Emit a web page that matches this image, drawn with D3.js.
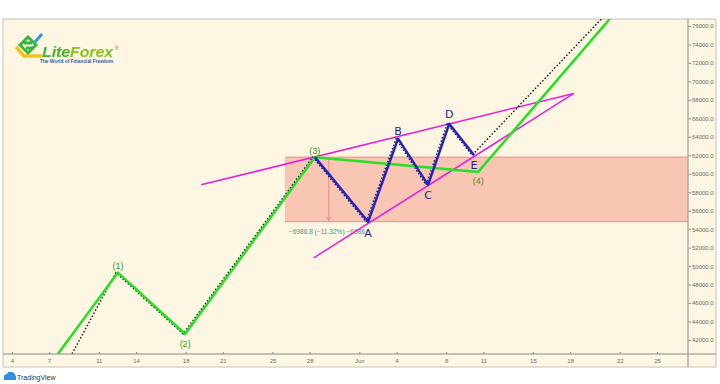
<!DOCTYPE html>
<html>
<head>
<meta charset="utf-8">
<title>Wave count</title>
<style>
  body { margin: 0; background: #fff; }
  svg { display: block; font-family: "Liberation Sans", Arial, sans-serif; }
</style>
</head>
<body>
<div id="chart"></div>
<script src="https://cdn.jsdelivr.net/npm/d3@7"></script>
<script>
// impulse wave, green
var waveDates = ["2021-05-07 17:00", "2021-05-12 13:00", "2021-05-17 23:00", "2021-05-28 10:00", "2021-06-10 14:00", "2021-06-21 05:00"];
var waveValues = [40500, 49300, 42650, 61800, 60200, 76800];
var waveLabels = ["", "(1)", "(2)", "(3)", "(4)", ""];

// triangle A-E, blue
var triDates = ["2021-05-28 10:00", "2021-06-01 17:00", "2021-06-04 03:00", "2021-06-06 13:00", "2021-06-08 06:00", "2021-06-10 06:00"];
var triValues = [61800, 54800, 63800, 58800, 65400, 62000];
var triLabels = ["", "A", "B", "C", "D", "E"];

// price path, dotted black
var priceDates = ["2021-05-09 00:00", "2021-05-12 13:00", "2021-05-17 23:00", "2021-05-28 10:00", "2021-06-01 17:00", "2021-06-04 03:00", "2021-06-06 13:00", "2021-06-08 06:00", "2021-06-10 06:00", "2021-06-20 17:00"];
var priceValues = [40500, 49300, 42650, 61800, 54800, 63800, 58800, 65400, 62000, 76800];

// triangle trendlines, magenta
var upperDates = ["2021-05-19 06:00", "2021-06-18 07:00"];
var upperValues = [58800, 68700];
var lowerDates = ["2021-05-28 08:00", "2021-06-18 07:00"];
var lowerValues = [50900, 68700];

// price range box
var rangeStart = "2021-05-26 00:00";
var rangeArrow = "2021-05-29 13:00";
var rangeTop = 61800;
var rangeBottom = 54813;
var rangeText = "\u22126986.8 (\u221211.32%) \u22126986";

// axes
var xTickDates = ["2021-05-04 00:00", "2021-05-07 00:00", "2021-05-11 00:00", "2021-05-14 00:00", "2021-05-18 00:00", "2021-05-21 00:00", "2021-05-25 00:00", "2021-05-28 00:00", "2021-06-01 00:00", "2021-06-04 00:00", "2021-06-08 00:00", "2021-06-11 00:00", "2021-06-15 00:00", "2021-06-18 00:00", "2021-06-22 00:00", "2021-06-25 00:00"];
var xTickLabels = ["4", "7", "11", "14", "18", "21", "25", "28", "Jun", "4", "8", "11", "15", "18", "22", "25"];
var yTicks = [42000, 44000, 46000, 48000, 50000, 52000, 54000, 56000, 58000, 60000, 62000, 64000, 66000, 68000, 70000, 72000, 74000, 76000];

var parse = d3.timeParse("%Y-%m-%d %H:%M");

var W = 720, H = 384;
var frameLeft = 3, frameTop = 19, plotRight = 688, axisRight = 716, plotBottom = 354, axisBottom = 367;

var svg = d3.select("#chart").append("svg")
    .attr("width", W)
    .attr("height", H);

var x = d3.scaleTime()
    .domain([parse("2021-05-04 00:00"), parse("2021-06-25 00:00")])
    .range([12, 657]);
var y = d3.scaleLinear()
    .domain([42000, 76000])
    .range([340, 26]);

// frame
svg.append("rect")
    .attr("x", frameLeft).attr("y", frameTop)
    .attr("width", axisRight - frameLeft).attr("height", axisBottom - frameTop)
    .attr("fill", "#fdf6e2")
    .attr("stroke", "#c4c2b8");

svg.append("clipPath").attr("id", "plot")
    .append("rect")
    .attr("x", frameLeft).attr("y", frameTop)
    .attr("width", plotRight - frameLeft).attr("height", plotBottom - frameTop);

var plot = svg.append("g").attr("clip-path", "url(#plot)");

// range box
var rx = x(parse(rangeStart));
plot.append("rect")
    .attr("x", rx)
    .attr("y", y(rangeTop))
    .attr("width", plotRight - rx)
    .attr("height", y(rangeBottom) - y(rangeTop))
    .attr("fill", "#f9c6b3");
[rangeTop, rangeBottom].forEach(function(v) {
    plot.append("line")
        .attr("x1", rx).attr("x2", plotRight)
        .attr("y1", y(v)).attr("y2", y(v))
        .attr("stroke", "#ee8a86").attr("stroke-width", 1);
});
var ax = x(parse(rangeArrow));
plot.append("line")
    .attr("x1", ax).attr("x2", ax)
    .attr("y1", y(rangeTop)).attr("y2", y(rangeBottom) - 1)
    .attr("stroke", "#ea8a86").attr("stroke-width", 1);
plot.append("path")
    .attr("d", "M" + (ax - 2.5) + "," + (y(rangeBottom) - 5) + "L" + ax + "," + (y(rangeBottom) - 1) + "L" + (ax + 2.5) + "," + (y(rangeBottom) - 5))
    .attr("fill", "none").attr("stroke", "#ea8a86").attr("stroke-width", 1);
plot.append("text")
    .attr("x", rx + 4)
    .attr("y", y(rangeBottom) + 12)
    .attr("font-size", 6.3)
    .attr("fill", "#3d9a8c")
    .attr("textLength", 76).attr("lengthAdjust", "spacingAndGlyphs")
    .text(rangeText);

var line = d3.line()
    .x(function(d) { return x(d[0]); })
    .y(function(d) { return y(d[1]); });

function pts(dates, values) {
    return dates.map(function(d, i) { return [parse(d), values[i]]; });
}

// trendlines
plot.append("path")
    .attr("d", line(pts(upperDates, upperValues)))
    .attr("fill", "none").attr("stroke", "#e41ee4").attr("stroke-width", 1.5);
plot.append("path")
    .attr("d", line(pts(lowerDates, lowerValues)))
    .attr("fill", "none").attr("stroke", "#e41ee4").attr("stroke-width", 1.5);

// price
plot.append("path")
    .attr("d", line(pts(priceDates, priceValues)))
    .attr("fill", "none").attr("stroke", "#111").attr("stroke-width", 1.4)
    .attr("stroke-dasharray", "1.5,2")
    .attr("transform", "translate(-2,0)");

// waves
plot.append("path")
    .attr("d", line(pts(waveDates, waveValues)))
    .attr("fill", "none").attr("stroke", "#26e026").attr("stroke-width", 2.5)
    .attr("stroke-linejoin", "round");
plot.append("path")
    .attr("d", line(pts(triDates, triValues)))
    .attr("fill", "none").attr("stroke", "#2323c8").attr("stroke-width", 2.5)
    .attr("stroke-linejoin", "round");

// labels
var waveOff = [0, -7, 10, -6, 9, 0];
waveLabels.forEach(function(t, i) {
    if (!t) return;
    svg.append("text")
        .attr("x", x(parse(waveDates[i])))
        .attr("y", y(waveValues[i]) + waveOff[i])
        .attr("dy", "0.35em")
        .attr("text-anchor", "middle")
        .attr("font-size", 9)
        .attr("fill", i == 4 ? "#5c8c12" : "#2e9a36")
        .text(t);
});
var triOff = [0, 11, -8, 10, -10, 10];
triLabels.forEach(function(t, i) {
    if (!t) return;
    svg.append("text")
        .attr("x", x(parse(triDates[i])))
        .attr("y", y(triValues[i]) + triOff[i])
        .attr("dy", "0.36em")
        .attr("text-anchor", "middle")
        .attr("font-family", "DejaVu Sans, sans-serif")
        .attr("font-size", 11)
        .attr("fill", "#1e1e8e")
        .text(t);
});

// x axis
var gx = svg.append("g")
    .attr("transform", "translate(0," + plotBottom + ")")
    .call(d3.axisBottom(x)
        .tickValues(xTickDates.map(parse))
        .tickFormat(function(d, i) { return xTickLabels[i]; })
        .tickSizeInner(-2).tickSizeOuter(0).tickPadding(5));
gx.select(".domain").remove();
gx.selectAll("line").attr("stroke", "#8a8a84");
gx.selectAll("text").attr("font-size", 6).attr("fill", "#6a6a66").attr("font-family", "Liberation Sans, Arial, sans-serif");

// y axis
var gy = svg.append("g")
    .attr("transform", "translate(" + plotRight + ",0)")
    .call(d3.axisRight(y)
        .tickValues(yTicks)
        .tickFormat(d3.format(".1f"))
        .tickSizeInner(3).tickSizeOuter(0).tickPadding(1));
gy.select(".domain").remove();
gy.selectAll("line").attr("stroke", "#8a8a84");
gy.selectAll("text").attr("font-size", 6).attr("fill", "#6a6a66").attr("font-family", "Liberation Sans, Arial, sans-serif");

svg.append("line")
    .attr("x1", plotRight).attr("x2", plotRight)
    .attr("y1", frameTop).attr("y2", axisBottom)
    .attr("stroke", "#aeaca4").attr("stroke-width", 1.5);
svg.append("line")
    .attr("x1", frameLeft).attr("x2", axisRight)
    .attr("y1", plotBottom).attr("y2", plotBottom)
    .attr("stroke", "#8c8a84").attr("stroke-width", 1);

// LiteForex logo
var logo = svg.append("g");
logo.append("path")
    .attr("d", "M16,47 L24,56 L42,56")
    .attr("fill", "none").attr("stroke", "#f2c41a").attr("stroke-width", 3.5)
    .attr("stroke-linejoin", "miter");
logo.append("path")
    .attr("d", "M20,45 L28,37 L36,45 L28,53 Z M24,43 L32,43 M26,48 L34,48")
    .attr("fill", "none").attr("stroke", "#3cb43c").attr("stroke-width", 3);
logo.append("path")
    .attr("d", "M35,42 L42,34")
    .attr("stroke", "#2a9be0").attr("stroke-width", 3);
var lf = logo.append("text")
    .attr("x", 42).attr("y", 57)
    .attr("font-size", 14).attr("font-weight", "bold").attr("font-style", "italic")
    .attr("textLength", 71).attr("lengthAdjust", "spacingAndGlyphs");
lf.append("tspan").attr("fill", "#46b035").text("Lite");
lf.append("tspan").attr("fill", "#8cbf1e").text("Forex");
logo.append("text")
    .attr("x", 115).attr("y", 50)
    .attr("font-size", 5).attr("fill", "#e03a2a")
    .text("\u00ae");
logo.append("text")
    .attr("x", 40).attr("y", 63)
    .attr("font-size", 4.6).attr("font-weight", "bold").attr("fill", "#1f5fb0")
    .attr("textLength", 73).attr("lengthAdjust", "spacingAndGlyphs")
    .text("The World of Financial Freedom");

// TradingView mark
svg.append("path")
    .attr("d", "M4,380 L4,377 Q4,374 7,374 Q8,371 11,372 Q15,372 15,375 Q17,376 16,380 Z")
    .attr("fill", "#2f8fe0");
svg.append("text")
    .attr("x", 17).attr("y", 380)
    .attr("font-size", 7).attr("fill", "#333")
    .text("TradingView");
</script>
</body>
</html>
